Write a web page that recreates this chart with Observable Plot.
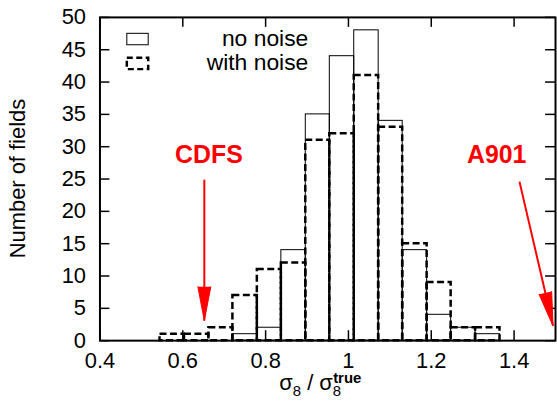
<!DOCTYPE html>
<html><head><meta charset="utf-8">
<script src="https://cdn.jsdelivr.net/npm/d3@7"></script>
<script src="https://cdn.jsdelivr.net/npm/@observablehq/plot@0.6"></script>
<style>
html,body{margin:0;padding:0;background:#fff;overflow:hidden;}
#chart{width:557px;height:413px;overflow:hidden;}
svg{font-family:"Liberation Sans",Arial,Helvetica,sans-serif;}
</style></head><body><div id="chart"></div>
<script>
// ---- data ----
const binEdges  = [0.545,0.604,0.663,0.721,0.780,0.838,0.897,0.955,1.014,1.073,1.131,1.190,1.248,1.307,1.366];
const noNoise   = [0,0,0,1,2,14,35,44,48,34,14,4,2,1];
const withNoise = [1,1,2,7,11,12,31,32,41,33,15,9,2,2];
const seriesNames = ["no noise","with noise"];
const xTicks = [0.4,0.6,0.8,1.0,1.2,1.4];
const yTicks = [0,5,10,15,20,25,30,35,40,45,50];
const annotLabels = ["CDFS","A901"];
const annotLabelX = [0.663,1.358];
const annotLabelY = [28.7,28.7];
const arrowFromX = [0.652,1.413];
const arrowFromY = [24.9,24.6];
const arrowToX   = [0.652,1.494];
const arrowToY   = [3.1,2.3];

// ---- layout ----
const W = 560, H = 413, ML = 100, MR = 2, MT = 17, MB = 71;
const PW = W - ML - MR, PH = H - MT - MB;
const xDomain = [0.4,1.5], yDomain = [0,50];
const FONT = '"Liberation Sans",Arial,Helvetica,sans-serif';

const bins = (vals) => vals.map((v,i)=>({x1:binEdges[i], x2:binEdges[i+1], y:v}));
const solidBins = bins(noNoise), dashBins = bins(withNoise);

const xs = Plot.scale({x:{domain:xDomain, range:[ML, W-MR]}});
const ys = Plot.scale({y:{domain:yDomain, range:[H-MB, MT]}});
const annotations = annotLabels.map((label,i)=>{
  const dxp = xs.apply(arrowToX[i]) - xs.apply(arrowFromX[i]);
  const dyp = ys.apply(arrowToY[i]) - ys.apply(arrowFromY[i]);
  return {label, lx:annotLabelX[i], ly:annotLabelY[i], x1:arrowFromX[i], y1:arrowFromY[i],
          x2:arrowToX[i], y2:arrowToY[i], rot: Math.atan2(dxp, -dyp)*180/Math.PI};
});

const svg = Plot.plot({
  width: W, height: H, marginLeft: ML, marginRight: MR, marginTop: MT, marginBottom: MB,
  style: {fontFamily: FONT, background: "white", color: "black"},
  x: {domain: xDomain},
  y: {domain: yDomain},
  marks: [
    Plot.rect(solidBins, {x1:"x1", x2:"x2", y1:0, y2:"y", fill:"none", stroke:"black", strokeWidth:1}),
    Plot.rect(dashBins, {x1:"x1", x2:"x2", y1:0, y2:"y", fill:"none", stroke:"black", strokeWidth:2.5, strokeDasharray:"7,3.5"}),
    Plot.frame({strokeWidth:2}),
    Plot.tickY(yTicks, {y:d=>d, insetRight: PW-10, strokeWidth:1.5}),
    Plot.tickY(yTicks, {y:d=>d, insetLeft: PW-10, strokeWidth:1.5}),
    Plot.tickX(xTicks, {x:d=>d, insetTop: PH-10, strokeWidth:1.5}),
    Plot.tickX(xTicks, {x:d=>d, insetBottom: PH-10, strokeWidth:1.5}),
    Plot.axisY(yTicks, {tickSize:0, tickPadding:14, fontSize:22, label:null}),
    Plot.axisX(xTicks, {tickSize:0, tickPadding:12, fontSize:22, label:null, tickFormat:d=>d3.format("~g")(d)}),
    Plot.link(annotations, {x1:"x1", y1:"y1", x2:"x2", y2:"y2", stroke:"red", strokeWidth:2}),
    Plot.vector(annotations, {x:"x2", y:"y2", rotate:"rot", length:34, r:6.5, anchor:"end", shape:"spike", fill:"red", stroke:"red", strokeWidth:1}),
    Plot.text(annotations, {x:"lx", y:"ly", text:"label", fill:"red", fontWeight:"bold", fontSize:25})
  ]
});

const s = d3.select(svg);
// legend
const lg = s.append("g").attr("font-family", FONT).attr("font-size", 23);
lg.append("rect").attr("x",127.5).attr("y",33.5).attr("width",21.5).attr("height",11.5)
  .attr("fill","none").attr("stroke","black").attr("stroke-width",1);
lg.append("rect").attr("x",127.5).attr("y",58).attr("width",21.5).attr("height",11.5)
  .attr("fill","none").attr("stroke","black").attr("stroke-width",2.5).attr("stroke-dasharray","6,3.5");
lg.append("text").attr("x",310).attr("y",46.5).attr("text-anchor","end").text(seriesNames[0]);
lg.append("text").attr("x",310).attr("y",70.5).attr("text-anchor","end").text(seriesNames[1]);
// axis titles
const xt = s.append("text").attr("x",322).attr("y",392).attr("text-anchor","middle")
  .attr("font-family",FONT).attr("font-size",22);
xt.append("tspan").text("σ");
xt.append("tspan").attr("font-size",15).attr("dy",6).text("8");
xt.append("tspan").attr("dy",-6).text(" / σ");
xt.append("tspan").attr("font-size",15).attr("dy",6).text("8");
xt.append("tspan").attr("font-size",15).attr("font-weight","bold").attr("dy",-13).attr("dx",-8).text("true");
s.append("text").attr("transform","translate(25,179.5) rotate(-90)").attr("text-anchor","middle")
  .attr("font-family",FONT).attr("font-size",22).text("Number of fields");

document.getElementById("chart").appendChild(svg);
</script></body></html>
